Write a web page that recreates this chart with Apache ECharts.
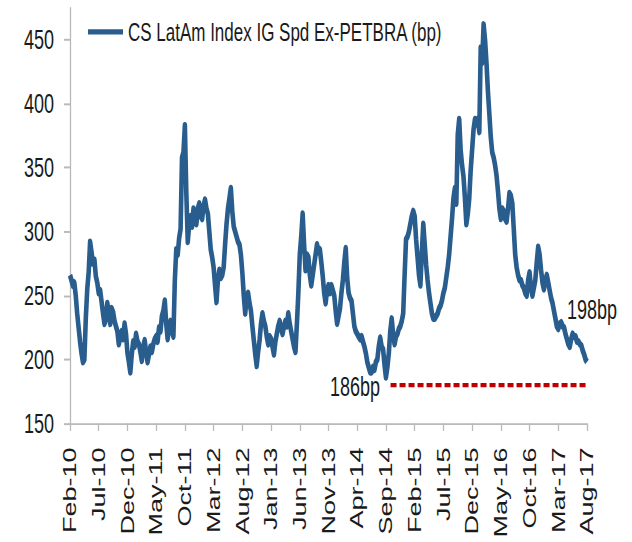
<!DOCTYPE html>
<html>
<head>
<meta charset="utf-8">
<script src="https://cdn.jsdelivr.net/npm/echarts@6/dist/echarts.min.js"></script>
<style>
  html, body { margin: 0; padding: 0; background: #fff; width: 632px; height: 542px; overflow: hidden; }
  /* chart is drawn at a shorter height and stretched vertically */
  #chart { width: 632px; height: 361px; transform: scaleY(1.5014); transform-origin: 0 0; }
</style>
</head>
<body>
<div id="chart"></div>
<script>
// Spread of the index, sampled every quarter month starting Feb-2010 (bp); one row = 5 months
const monthStep = 0.25;
const spreadBp = [
  266,262,258,260,250,236,225,214,205,198,200,232,255,268,292,284,275,278,265,260,
  252,254,245,236,228,232,244,236,228,240,237,230,226,222,212,218,222,216,228,220,
  205,198,190,204,214,210,220,214,212,206,199,210,215,206,198,204,210,206,212,216,
  218,214,225,222,234,238,246,228,216,226,230,222,218,262,286,282,295,302,358,362,
  383,330,292,306,312,304,318,310,306,318,322,312,310,320,325,318,314,300,286,280,
  272,258,245,262,270,264,266,272,290,306,318,326,334,316,304,300,296,292,290,282,
  268,250,236,248,252,244,238,226,215,204,195,206,215,228,236,230,226,218,212,218,
  216,210,204,214,220,226,230,224,220,226,230,226,236,228,222,216,210,206,228,252,
  282,296,314,290,270,282,280,266,258,266,274,282,290,284,286,276,265,252,244,254,
  258,252,258,254,250,238,228,234,240,252,262,276,287,264,252,248,246,236,226,222,
  220,218,216,218,214,210,205,198,194,190,190,194,192,198,200,210,217,210,208,196,
  186,194,205,222,232,220,212,218,220,224,226,230,236,266,294,296,300,306,312,316,
  312,294,280,266,258,284,306,290,274,262,252,244,236,232,232,234,236,240,242,246,
  252,256,264,272,282,296,310,326,334,322,376,388,364,352,343,326,306,314,326,348,
  364,380,388,384,388,378,444,432,462,450,432,410,392,374,362,358,352,344,332,318,
  310,318,316,310,308,318,330,328,322,302,282,272,266,262,262,258,256,252,250,262,
  268,256,250,256,262,276,288,282,270,260,255,262,266,260,254,248,244,238,232,226,
  224,228,229,226,225,220,216,212,210,216,220,218,218,214,214,212,211,207,204,200,
  198
];

// x-axis tick labels, one every five months from Feb-10
const xTickLabels = ['Feb-10','Jul-10','Dec-10','May-11','Oct-11','Mar-12','Aug-12','Jan-13','Jun-13','Nov-13',
                     'Apr-14','Sep-14','Feb-15','Jul-15','Dec-15','May-16','Oct-16','Mar-17','Aug-17'];
const xTickStep = 5;
const yTicks = [150, 200, 250, 300, 350, 400, 450];

// annotated points: [month index, bp]
const lowPoint = [55, 186];
const lastPoint = [90, 198];
// dashed reference level: [start month, end month, bp]
const refLevel = [55.8, 90, 180];

const seriesName = 'CS LatAm Index IG Spd Ex-PETBRA (bp)';
const lineData = spreadBp.map((v, i) => [i * monthStep, v]);

const font = "'Liberation Sans', Arial, Helvetica, sans-serif";
const axisGray = '#b9b9b9';

const chart = echarts.init(document.getElementById('chart'), null, { renderer: 'svg' });
chart.setOption({
  animation: false,
  backgroundColor: '#fff',
  grid: { left: 70, right: 45, top: 5.3, bottom: 77.9 },
  legend: {
    left: 88, top: 12.8, padding: 0,
    icon: 'rect', itemWidth: 35, itemHeight: 3.5, itemGap: 10,
    textStyle: { fontFamily: font, fontSize: 17, color: '#1a1a1a' },
    data: [seriesName]
  },
  xAxis: {
    type: 'value', min: 0, max: 90, interval: xTickStep,
    axisLine: { lineStyle: { color: axisGray, width: 1.3 } },
    axisTick: { length: 5, lineStyle: { color: axisGray, width: 1.3 } },
    splitLine: { show: false },
    axisLabel: {
      rotate: 90, margin: 16,
      fontFamily: font, fontSize: 18, color: '#1a1a1a',
      formatter: v => xTickLabels[Math.round(v / xTickStep)] || ''
    }
  },
  yAxis: {
    type: 'value', min: 150, max: 475, interval: 50,
    axisLine: { show: true, lineStyle: { color: axisGray, width: 1.3 } },
    axisTick: { show: true, length: 6, customValues: yTicks, lineStyle: { color: axisGray, width: 1.3 } },
    splitLine: { show: false },
    axisLabel: { customValues: yTicks, margin: 16, fontFamily: font, fontSize: 18, color: '#1a1a1a' }
  },
  series: [{
    name: seriesName,
    type: 'line',
    data: lineData,
    symbol: 'none',
    clip: false,
    lineStyle: { color: '#285d8e', width: 4.6, join: 'round' },
    itemStyle: { color: '#285d8e' },
    markPoint: {
      symbol: 'circle', symbolSize: 0,
      label: {
        show: true, position: 'inside',
        fontFamily: font, fontSize: 18, color: '#1a1a1a',
        formatter: p => p.value + 'bp'
      },
      data: [
        { coord: lowPoint, value: lowPoint[1], label: { offset: [-31, 6] } },
        { coord: lastPoint, value: lastPoint[1], label: { offset: [5, -35] } }
      ]
    },
    markLine: {
      silent: true, symbol: ['none', 'none'],
      label: { show: false },
      lineStyle: { color: '#c00000', width: 2.7, type: [6, 3] },
      data: [[{ coord: [refLevel[0], refLevel[2]] }, { coord: [refLevel[1], refLevel[2]] }]]
    }
  }]
});
</script>
</body>
</html>
